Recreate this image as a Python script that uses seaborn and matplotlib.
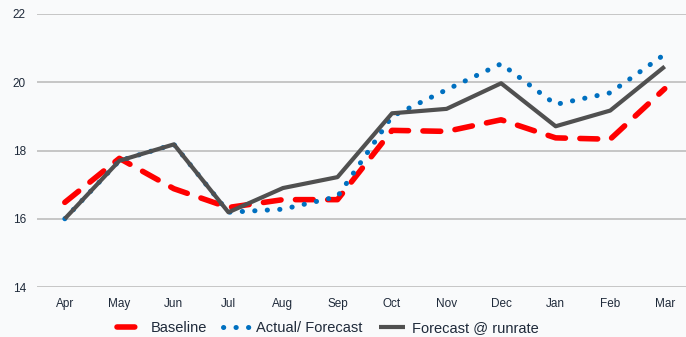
"""
Baseline vs actual/forecast vs runrate chart
"""
import pandas as pd
import matplotlib
matplotlib.use("Agg")
import matplotlib.pyplot as plt
import seaborn as sns

# Data
months = ['Apr', 'May', 'Jun', 'Jul', 'Aug', 'Sep', 'Oct', 'Nov', 'Dec', 'Jan', 'Feb', 'Mar']
baseline = [16.48, 17.77, 16.88, 16.33, 16.56, 16.56, 18.59, 18.56, 18.9, 18.37, 18.33, 19.81]
actual_forecast = [16.0, 17.7, 18.18, 16.19, 16.28, 16.65, 19.0, 19.78, 20.54, 19.35, 19.69, 20.82]
runrate = [16.0, 17.7, 18.18, 16.19, 16.9, 17.22, 19.09, 19.22, 19.97, 18.71, 19.17, 20.46]
yticks = [14, 16, 18, 20, 22]

sns.set_theme(style="white")
plt.rcParams['font.family'] = ['Liberation Sans', 'DejaVu Sans']

bg = '#f9fafb'
text_col = '#1f2a3a'

df = pd.DataFrame({'Month': months, 'Baseline': baseline,
                   'Actual/ Forecast': actual_forecast, 'Forecast @ runrate': runrate})

fig = plt.figure(figsize=(6.86, 3.37), dpi=100, facecolor=bg)
ax = fig.add_axes([37 / 686, 50 / 337, 1 - 37 / 686, 273 / 337])
ax.set_facecolor(bg)

sns.lineplot(data=df, x='Month', y='Baseline', ax=ax, color='#ff0000', lw=4,
             sort=False, label='Baseline')
sns.lineplot(data=df, x='Month', y='Actual/ Forecast', ax=ax, color='#0070c0', lw=3.6,
             sort=False, label='Actual/ Forecast')
sns.lineplot(data=df, x='Month', y='Forecast @ runrate', ax=ax, color='#505050', lw=3,
             sort=False, label='Forecast @ runrate')

lines = ax.get_lines()
lines[0].set_dashes((3.2, 2.6))
lines[0].set_dash_capstyle('round')
lines[1].set_dashes((0.05, 2.45))
lines[1].set_dash_capstyle('round')
lines[2].set_solid_capstyle('butt')

ax.set_ylim(14, 22)
ax.set_yticks(yticks)
ax.set_xlim(-0.51, 11.39)
ax.yaxis.grid(True, color='#bdbdbd', lw=1.2)
ax.set_axisbelow(True)
for s in ax.spines.values():
    s.set_visible(False)
ax.set_xlabel('')
ax.set_ylabel('')
ax.tick_params(axis='both', length=0, labelsize=8.5, colors=text_col)
ax.tick_params(axis='y', pad=8)
ax.tick_params(axis='x', pad=8)

ax.get_legend().remove()
fig.legend(handles=lines, labels=['Baseline', 'Actual/ Forecast', 'Forecast @ runrate'],
           loc='center', bbox_to_anchor=(0.478, 0.027), ncol=3, frameon=False,
           fontsize=10.5, handlelength=1.8, handletextpad=0.5, columnspacing=1.1,
           labelcolor=text_col)

fig.savefig('out.png', dpi=100, facecolor=bg)
